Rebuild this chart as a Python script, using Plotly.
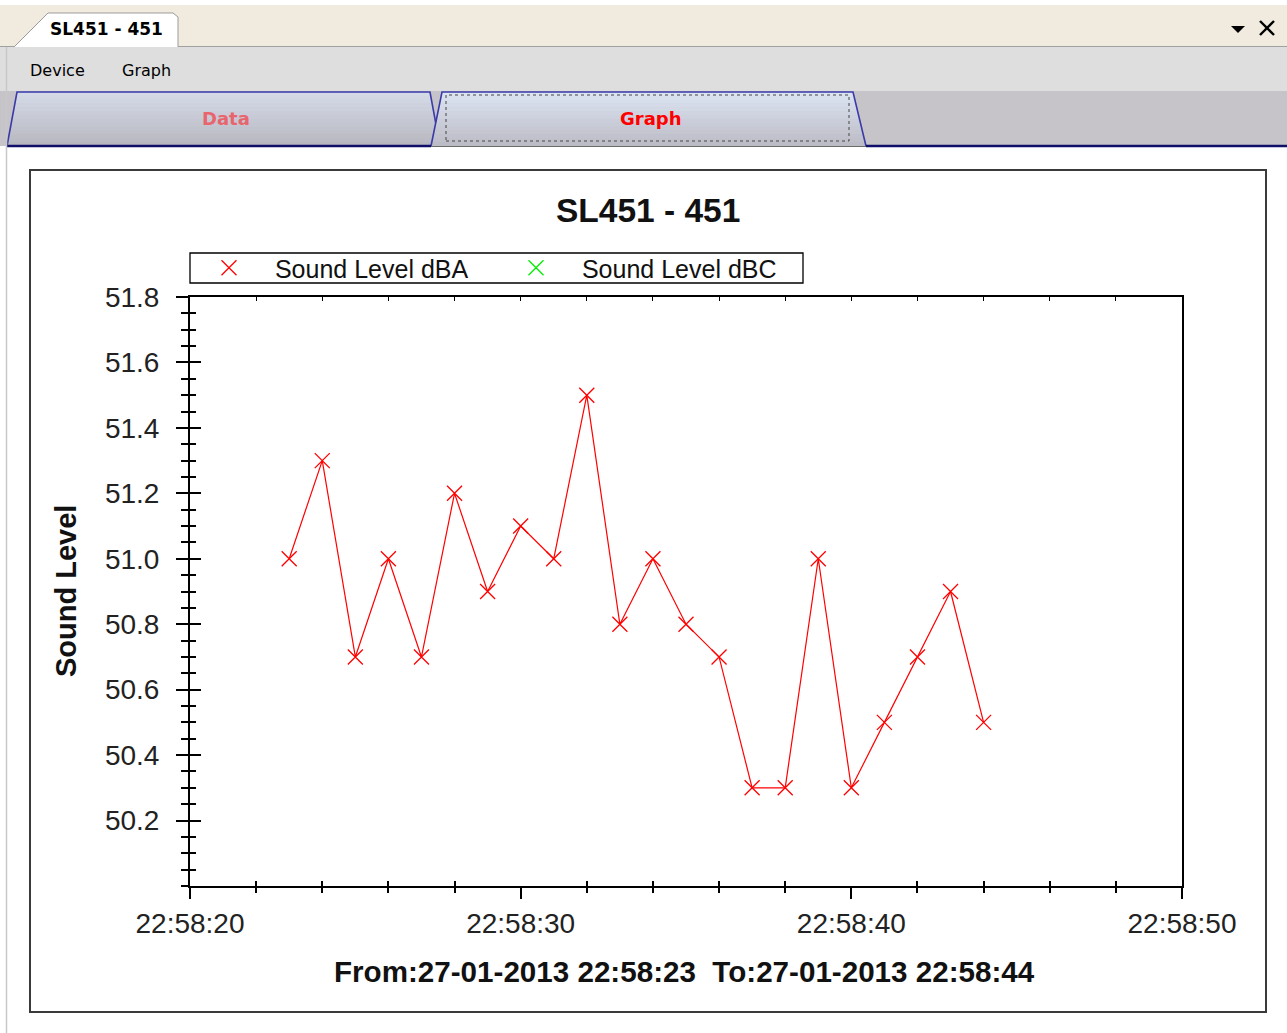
import plotly.graph_objects as go

# ---- data -------------------------------------------------------------
DAY = "2013-01-27 "
times = ["22:58:23", "22:58:24", "22:58:25", "22:58:26", "22:58:27", "22:58:28",
         "22:58:29", "22:58:30", "22:58:31", "22:58:32", "22:58:33", "22:58:34",
         "22:58:35", "22:58:36", "22:58:37", "22:58:38", "22:58:39", "22:58:40",
         "22:58:41", "22:58:42", "22:58:43", "22:58:44"]
dba = [51.0, 51.3, 50.7, 51.0, 50.7, 51.2, 50.9, 51.1, 51.0, 51.5, 50.8,
       51.0, 50.8, 50.7, 50.3, 50.3, 51.0, 50.3, 50.5, 50.7, 50.9, 50.5]
dbc = []          # no C-weighted samples in this session
dbc_times = []
y_ticks = [50.2, 50.4, 50.6, 50.8, 51.0, 51.2, 51.4, 51.6, 51.8]
x_range = ["22:58:20", "22:58:50"]
y_range = [50.0, 51.8]

W, H = 1287, 1033
FONT = "Liberation Sans, Arial, sans-serif"
UI = "DejaVu Sans, Verdana, sans-serif"


def px(x):
    return x / W


def py(y):
    return 1 - y / H


def path(points, close=True):
    s = "M " + " L ".join(f"{px(x):.5f},{py(y):.5f}" for x, y in points)
    return s + (" Z" if close else "")


def mix(c1, c2, t):
    a = [int(c1[i:i + 2], 16) for i in (1, 3, 5)]
    b = [int(c2[i:i + 2], 16) for i in (1, 3, 5)]
    return "#" + "".join(f"{round(a[k] + (b[k] - a[k]) * t):02x}" for k in range(3))


shapes = []


def rect(x0, y0, x1, y1, fill=None, line=None, lw=0, dash=None):
    shapes.append(dict(type="rect", xref="paper", yref="paper",
                       x0=px(x0), x1=px(x1), y0=py(y1), y1=py(y0),
                       fillcolor=fill or "rgba(0,0,0,0)",
                       line=dict(color=line or "rgba(0,0,0,0)", width=lw,
                                 dash=dash or "solid"),
                       layer="below"))


def seg(pts, color, lw, close=False, fill=None):
    shapes.append(dict(type="path", xref="paper", yref="paper",
                       path=path(pts, close),
                       fillcolor=fill or "rgba(0,0,0,0)",
                       line=dict(color=color, width=lw), layer="below"))


def tab(xl0, xl1, xr1, xr0, ytop, ybot, ctop, cbot, bands=14):
    # trapezoid tab filled with a vertical gradient made of thin bands
    for i in range(bands):
        ya = ytop + (ybot - ytop) * i / bands
        yb = ytop + (ybot - ytop) * (i + 1) / bands
        fa = (ya - ytop) / (ybot - ytop)
        fb = (yb - ytop) / (ybot - ytop)
        la, lb = xl1 + (xl0 - xl1) * fa, xl1 + (xl0 - xl1) * fb
        ra, rb = xr1 + (xr0 - xr1) * fa, xr1 + (xr0 - xr1) * fb
        c = mix(ctop, cbot, (i + 0.5) / bands)
        shapes.append(dict(type="path", xref="paper", yref="paper",
                           path=path([(la, ya - 0.3), (ra, ya - 0.3), (rb, yb + 0.3), (lb, yb + 0.3)]),
                           fillcolor=c, line=dict(width=0), layer="below"))
    seg([(xl0, ybot), (xl1, ytop), (xr1, ytop), (xr0, ybot)], "#3a3aa8", 1.6)


# ---- window chrome ----------------------------------------------------
rect(0, 5, W, 46, fill="#f1ebdf")
seg([(0, 46.5), (W, 46.5)], "#a0a0a0", 1)
seg([(14, 47), (48, 13), (173, 13), (178, 17), (178, 47)], "#ffffff", 0, close=True, fill="#ffffff")
seg([(14, 47), (48, 13), (173, 13), (178, 17), (178, 47)], "#9c9c9c", 1)
rect(0, 47, W, 91, fill="#dedede")
rect(0, 91, W, 146, fill="#c6c4c8")
tab(7, 17, 430, 440, 92, 146, "#d6dbe9", "#b7b7bf")
tab(431, 442, 853, 866, 92, 146, "#dde5f3", "#bbbbc5")
rect(446, 95, 849, 141, line="#444444", lw=1, dash="dot")
seg([(7, 146), (431, 146)], "#10106a", 2.5)
seg([(866, 146), (W, 146)], "#10106a", 2.5)
seg([(431, 146.5), (866, 146.5)], "#6a6a6a", 1.2)
seg([(6.5, 47), (6.5, H)], "#c8c8c8", 1.5)
# dropdown arrow and close cross at the top right
seg([(1231, 26), (1245, 26), (1238, 33)], "#000000", 0, close=True, fill="#000000")
seg([(1260, 21), (1274, 35)], "#000000", 2.4)
seg([(1274, 21), (1260, 35)], "#000000", 2.4)
# chart frame and legend box
rect(30, 170, 1266, 1012, line="#3a3a3a", lw=2)
rect(190, 253, 803, 283, fill="#ffffff", line="#000000", lw=1.3)

annotations = [
    dict(text="<b>SL451 - 451</b>", x=px(106), y=py(29), font=dict(family=UI, size=17, color="#000")),
    dict(text="Device", x=px(57), y=py(70), font=dict(family=UI, size=16, color="#000")),
    dict(text="Graph", x=px(146), y=py(70), font=dict(family=UI, size=16, color="#000")),
    dict(text="<b>Data</b>", x=px(226), y=py(119), font=dict(family=UI, size=18, color="#e8656d")),
    dict(text="<b>Graph</b>", x=px(651), y=py(119), font=dict(family=UI, size=18, color="#ff0000")),
    dict(text="<b>SL451 - 451</b>", x=px(648), y=py(210), font=dict(family=FONT, size=33.5, color="#111")),
    dict(text="<b>Sound Level</b>", x=px(66), y=py(591), textangle=-90,
         font=dict(family=FONT, size=29, color="#111")),
    dict(text="<b>From:27-01-2013 22:58:23  To:27-01-2013 22:58:44</b>", x=px(684), y=py(971),
         font=dict(family=FONT, size=29.6, color="#111")),
]
for a in annotations:
    a.update(xref="paper", yref="paper", showarrow=False, xanchor="center", yanchor="middle")

# ---- traces -------------------------------------------------------------
fig = go.Figure()
fig.add_trace(go.Scatter(
    x=[DAY + t for t in times], y=dba, mode="lines+markers", name="Sound Level dBA",
    legendgroup="dba", showlegend=False,
    line=dict(color="#ff0000", width=1.2),
    marker=dict(symbol="x-thin", size=15, line=dict(color="#ff0000", width=1.3)),
))
fig.add_trace(go.Scatter(
    x=[DAY + t for t in dbc_times], y=dbc, mode="lines+markers", name="Sound Level dBC",
    legendgroup="dbc", showlegend=False,
    line=dict(color="#00ee00", width=1.2),
    marker=dict(symbol="x-thin", size=15, line=dict(color="#00ee00", width=1.3)),
))
# legend entries show the marker only
for nm, col, grp in [("Sound Level dBA", "#ff0000", "dba"), ("Sound Level dBC", "#00ee00", "dbc")]:
    fig.add_trace(go.Scatter(
        x=[None], y=[None], mode="markers", name="\u00a0" + nm, legendgroup=grp,
        marker=dict(symbol="x-thin", size=15, line=dict(color=col, width=1.3)),
    ))
# empty traces so the overlay axes (frame lines, crossing ticks) get drawn
for xa, ya in [("x2", "y"), ("x3", "y"), ("x", "y2"), ("x", "y3")]:
    fig.add_trace(go.Scatter(x=[None], y=[None], xaxis=xa, yaxis=ya, mode="markers",
                             showlegend=False, hoverinfo="skip"))

dom_x = [px(190), px(1182)]
dom_y = [py(886), py(297)]
xr = [DAY + x_range[0], DAY + x_range[1]]
tick_font = dict(family=FONT, size=28, color="#222")

fig.update_layout(
    width=W, height=H, autosize=False,
    margin=dict(l=0, r=0, t=0, b=0, pad=0, autoexpand=False),
    paper_bgcolor="#ffffff", plot_bgcolor="#ffffff",
    shapes=shapes, annotations=annotations,
    showlegend=True,
    legend=dict(orientation="h", x=px(190), y=py(268), xanchor="left", yanchor="middle",
                bgcolor="rgba(0,0,0,0)", borderwidth=0,
                font=dict(family=FONT, size=25, color="#111"),
                itemwidth=68, entrywidth=224, entrywidthmode="pixels"),
    xaxis=dict(type="date", domain=dom_x, anchor="y", range=xr,
               tick0=DAY + x_range[0], dtick=10000, tickformat="%H:%M:%S",
               showgrid=False, zeroline=False, showline=True, linecolor="#000", linewidth=2,
               ticks="outside", ticklen=11, tickwidth=1.5, tickcolor="#000",
               tickfont=tick_font, ticklabelstandoff=0,
               minor=dict(dtick=2000, ticks="outside", ticklen=5, tickwidth=1.5,
                          tickcolor="#000", showgrid=False)),
    xaxis2=dict(type="date", domain=dom_x, anchor="y", overlaying="x", range=xr,
                tick0=DAY + x_range[0], dtick=10000, side="bottom",
                showgrid=False, zeroline=False, showline=False, showticklabels=False,
                ticks="inside", ticklen=0, tickcolor="#000",
                minor=dict(dtick=2000, ticks="inside", ticklen=5, tickwidth=1.5,
                           tickcolor="#000", showgrid=False)),
    xaxis3=dict(type="date", domain=dom_x, anchor="y", overlaying="x", range=xr,
                tick0=DAY + x_range[0], dtick=10000, side="top",
                showgrid=False, zeroline=False, showline=True, linecolor="#000", linewidth=1.5,
                showticklabels=False, ticks="inside", ticklen=4, tickwidth=1.3, tickcolor="#000",
                minor=dict(dtick=2000, ticks="inside", ticklen=4, tickwidth=1.3,
                           tickcolor="#000", showgrid=False)),
    yaxis=dict(domain=dom_y, anchor="x", range=y_range,
               tickvals=y_ticks, ticktext=[f"{v:.1f}" for v in y_ticks],
               showgrid=False, zeroline=False, showline=True, linecolor="#000", linewidth=2,
               ticks="outside", ticklen=12, tickwidth=1.5, tickcolor="#000",
               tickfont=tick_font, ticklabelstandoff=11,
               minor=dict(tick0=50.0, dtick=0.05, ticks="outside", ticklen=7, tickwidth=1.5,
                          tickcolor="#000", showgrid=False)),
    yaxis2=dict(domain=dom_y, anchor="x", overlaying="y", range=y_range, side="right",
                showgrid=False, zeroline=False, showline=True, linecolor="#000", linewidth=1.5,
                showticklabels=False, ticks=""),
    yaxis3=dict(domain=dom_y, anchor="x", overlaying="y", range=y_range, side="left",
                tickvals=y_ticks, showgrid=False, zeroline=False, showline=False,
                showticklabels=False, ticks="inside", ticklen=11, tickwidth=1.5, tickcolor="#000",
                minor=dict(tick0=50.0, dtick=0.05, ticks="inside", ticklen=6, tickwidth=1.5,
                           tickcolor="#000", showgrid=False)),
)

fig.write_html("out.html")
